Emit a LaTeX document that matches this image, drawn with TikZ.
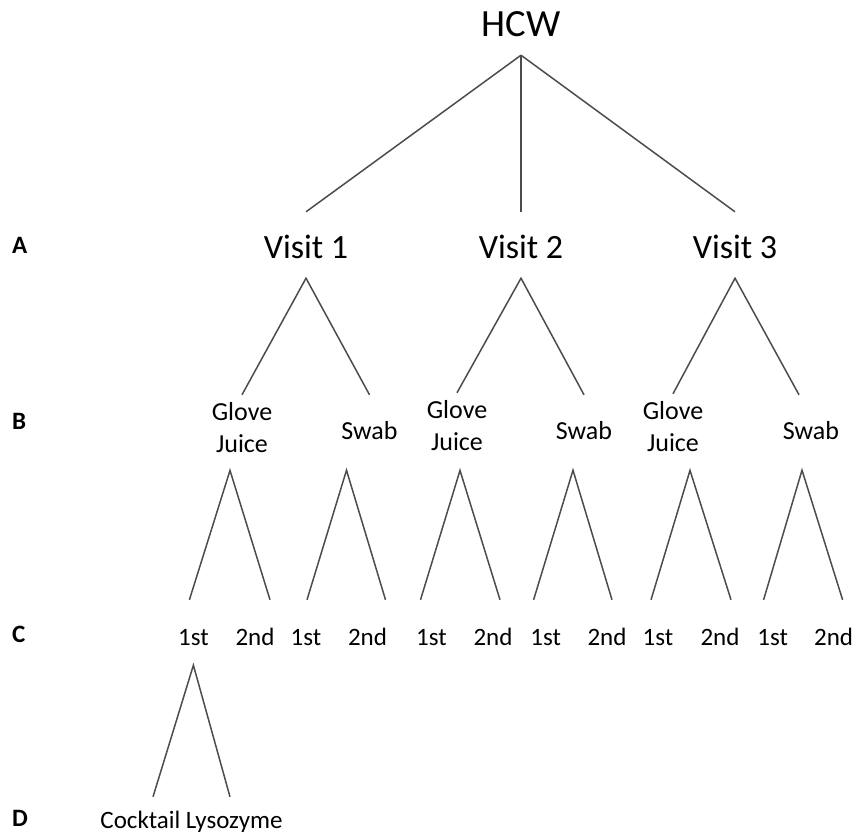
\documentclass[tikz,border=0pt]{standalone}
\usepackage{fontspec}
\setmainfont{Carlito}

\begin{document}
\begin{tikzpicture}[
  x=1pt, y=-1pt,
  every node/.style={inner sep=0pt, anchor=base},
  leg/.style={line width=1.5pt, black!70},
  root/.style={font=\fontsize{38.5}{46}\selectfont, text depth=19pt},
  visit/.style={font=\fontsize{34}{40}\selectfont, text height=46pt, text depth=20pt},
  glove/.style={font=\fontsize{26}{32}\selectfont, align=center},
  swab/.style={font=\fontsize{26}{32}\selectfont, text height=44pt, text depth=31pt},
  attempt/.style={font=\fontsize{25}{30}\selectfont, text height=45pt, text depth=20pt},
  assay/.style={font=\fontsize{25}{30}\selectfont, text height=31pt},
  level/.style={font=\bfseries\fontsize{25}{30}\selectfont, anchor=base west},
]
  \useasboundingbox (0,0) rectangle (858,836);

  % level letters
  \node[level] (lA) at (12,253) {A};
  \node[level] (lB) at (12,429) {B};
  \node[level] (lC) at (12,642) {C};
  \node[level] (lD) at (12,826) {D};

  \node[root] (hcw) at (521,36) {HCW};

  \node[visit] (v1) at (306,258) {Visit 1};
  \node[visit] (v2) at (521,258) {Visit 2};
  \node[visit] (v3) at (735,258) {Visit 3};

  % base of a two-line node is the last line
  \node[glove] (gj1) at (242,452) {Glove\\Juice};
  \node[swab]  (sw1) at (369.5,439) {Swab};
  \node[glove] (gj2) at (457,450) {Glove\\Juice};
  \node[swab]  (sw2) at (584,439) {Swab};
  \node[glove] (gj3) at (673,451) {Glove\\Juice};
  \node[swab]  (sw3) at (811,439) {Swab};

  \foreach \n/\x/\t in {c1/193.4/1st, c2/255/2nd, c3/306/1st, c4/367.5/2nd,
                        c5/431.5/1st, c6/493/2nd, c7/545.6/1st, c8/607/2nd,
                        c9/658/1st, c10/720/2nd, c11/772.6/1st, c12/833.6/2nd}
    \node[attempt] (\n) at (\x,645) {\t};

  \node[assay] (cl) at (191.5,828) {Cocktail Lysozyme};

  % HCW to visits
  \draw[leg] (hcw.south) -- (v1.north);
  \draw[leg] (hcw.south) -- (v2.north);
  \draw[leg] (hcw.south) -- (v3.north);

  % visits to samples
  \draw[leg] ([yshift=7pt]gj1.north) -- (v1.south) -- (sw1.north);
  \draw[leg] ([yshift=7pt]gj2.north) -- (v2.south) -- (sw2.north);
  \draw[leg] ([yshift=7pt]gj3.north) -- (v3.south) -- ([xshift=-12pt]sw3.north);

  % samples to 1st / 2nd
  \foreach \p/\dx/\dy/\l/\ldx/\r/\rdx in {gj1/-12/-18/c1/-4/c2/15, sw1/-23/0/c3/1/c4/18,
                                          gj2/3/-20/c5/-11/c6/7, sw2/-11/0/c7/-12/c8/5,
                                          gj3/17/-19/c9/-7/c10/11, sw3/-9/0/c11/-9/c12/9}
    \draw[leg] ([xshift=\ldx pt]\l.north) -- ([xshift=\dx pt, yshift=\dy pt]\p.south)
               -- ([xshift=\rdx pt]\r.north);

  % 1st to assays
  \draw[leg] ([xshift=-38.5pt]cl.north) -- (c1.south) -- ([xshift=38.5pt]cl.north);
\end{tikzpicture}
\end{document}
